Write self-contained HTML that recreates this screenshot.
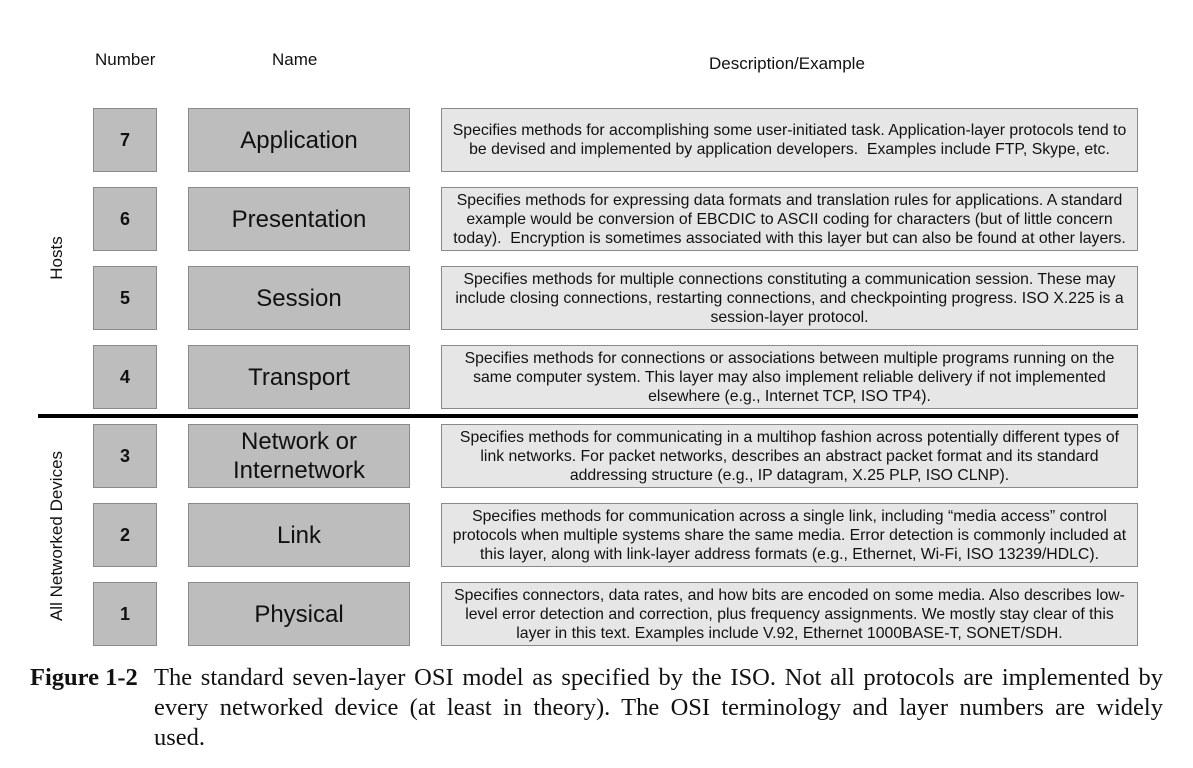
<!DOCTYPE html>
<html><head><meta charset="utf-8"><style>
body{margin:0;width:1193px;height:768px;background:#fff;position:relative;overflow:hidden;font-family:"Liberation Sans",sans-serif;color:#111}
.b{position:absolute;box-sizing:border-box;border:1.5px solid #8a8a8a;display:flex;align-items:center;justify-content:center;text-align:center}
.n{left:93px;width:64px;height:64px;background:#bdbdbd;font-weight:bold;font-size:18px}
.m{left:188px;width:222px;height:64px;background:#bdbdbd;font-size:24px;line-height:29px}
.d{left:441px;width:697px;height:64px;background:#e6e6e6;font-size:15.8px;line-height:19px;padding:0;white-space:nowrap}
.h{position:absolute;font-size:17px}
.v{position:absolute;font-size:17px;transform:translate(-50%,-50%) rotate(-90deg);white-space:nowrap}
.cap{position:absolute;font-family:"Liberation Serif",serif;font-size:24.5px;line-height:30px}
.j{text-align:justify;text-align-last:justify;white-space:nowrap}
</style></head><body>
<div class="h" style="left:95px;top:50px">Number</div>
<div class="h" style="left:272px;top:50px">Name</div>
<div class="h" style="left:709px;top:54px">Description/Example</div>
<div class="v" style="left:57px;top:258px">Hosts</div>
<div class="v" style="left:57px;top:536px">All Networked Devices</div>
<div style="position:absolute;left:38px;top:414px;width:1100px;height:4px;background:#000"></div>

<div class="b n" style="top:108px">7</div><div class="b m" style="top:108px">Application</div>
<div class="b d" style="top:108px">Specifies methods for accomplishing some user-initiated task. Application-layer protocols tend to<br>be devised and implemented by application developers.&nbsp; Examples include FTP, Skype, etc.</div>

<div class="b n" style="top:187px">6</div><div class="b m" style="top:187px">Presentation</div>
<div class="b d" style="top:187px">Specifies methods for expressing data formats and translation rules for applications. A standard<br>example would be conversion of EBCDIC to ASCII coding for characters (but of little concern<br>today).&nbsp; Encryption is sometimes associated with this layer but can also be found at other layers.</div>

<div class="b n" style="top:266px">5</div><div class="b m" style="top:266px">Session</div>
<div class="b d" style="top:266px">Specifies methods for multiple connections constituting a communication session. These may<br>include closing connections, restarting connections, and checkpointing progress. ISO X.225 is a<br>session-layer protocol.</div>

<div class="b n" style="top:345px">4</div><div class="b m" style="top:345px">Transport</div>
<div class="b d" style="top:345px">Specifies methods for connections or associations between multiple programs running on the<br>same computer system. This layer may also implement reliable delivery if not implemented<br>elsewhere (e.g., Internet TCP, ISO TP4).</div>

<div class="b n" style="top:424px">3</div><div class="b m" style="top:424px">Network or<br>Internetwork</div>
<div class="b d" style="top:424px">Specifies methods for communicating in a multihop fashion across potentially different types of<br>link networks. For packet networks, describes an abstract packet format and its standard<br>addressing structure (e.g., IP datagram, X.25 PLP, ISO CLNP).</div>

<div class="b n" style="top:503px">2</div><div class="b m" style="top:503px">Link</div>
<div class="b d" style="top:503px">Specifies methods for communication across a single link, including “media access” control<br>protocols when multiple systems share the same media. Error detection is commonly included at<br>this layer, along with link-layer address formats (e.g., Ethernet, Wi-Fi, ISO 13239/HDLC).</div>

<div class="b n" style="top:582px">1</div><div class="b m" style="top:582px">Physical</div>
<div class="b d" style="top:582px">Specifies connectors, data rates, and how bits are encoded on some media. Also describes low-<br>level error detection and correction, plus frequency assignments. We mostly stay clear of this<br>layer in this text. Examples include V.92, Ethernet 1000BASE-T, SONET/SDH.</div>

<div class="cap" style="left:30px;top:663px;font-weight:bold">Figure 1-2</div>
<div class="cap j" style="left:154px;top:663px;width:1009px">The standard seven-layer OSI model as specified by the ISO. Not all protocols are implemented by</div>
<div class="cap j" style="left:154px;top:693px;width:1009px">every networked device (at least in theory). The OSI terminology and layer numbers are widely</div>
<div class="cap" style="left:154px;top:723px">used.</div>
</body></html>
